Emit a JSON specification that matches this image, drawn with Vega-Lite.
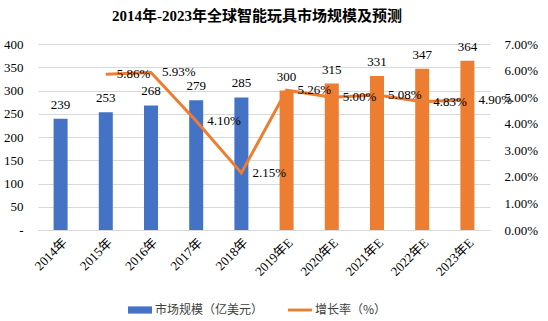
{
  "$schema": "https://vega.github.io/schema/vega-lite/v6.json",
  "width": 452,
  "height": 186,
  "autosize": "none",
  "padding": {"left": 38, "top": 44, "right": 58, "bottom": 91},
  "background": "white",
  "title": {
    "text": "2014年-2023年全球智能玩具市场规模及预测",
    "font": "Liberation Serif, Noto Sans CJK SC",
    "fontSize": 15,
    "fontWeight": "bold",
    "color": "#000000",
    "anchor": "middle",
    "dx": -7,
    "offset": 14
  },
  "data": {
    "values": [
      {"year": "2014年", "value": 239, "rate": null, "group": "市场规模（亿美元）"},
      {"year": "2015年", "value": 253, "rate": 0.0586, "group": "市场规模（亿美元）"},
      {"year": "2016年", "value": 268, "rate": 0.0593, "group": "市场规模（亿美元）"},
      {"year": "2017年", "value": 279, "rate": 0.0410, "group": "市场规模（亿美元）"},
      {"year": "2018年", "value": 285, "rate": 0.0215, "group": "市场规模（亿美元）"},
      {"year": "2019年E", "value": 300, "rate": 0.0526, "group": "预测规模"},
      {"year": "2020年E", "value": 315, "rate": 0.0500, "group": "预测规模"},
      {"year": "2021年E", "value": 331, "rate": 0.0508, "group": "预测规模"},
      {"year": "2022年E", "value": 347, "rate": 0.0483, "group": "预测规模"},
      {"year": "2023年E", "value": 364, "rate": 0.0490, "group": "预测规模"}
    ]
  },
  "encoding": {
    "x": {
      "field": "year",
      "type": "nominal",
      "sort": null,
      "scale": {"paddingInner": 0, "paddingOuter": 0},
      "axis": {
        "title": null,
        "labelAngle": -45,
        "labelPadding": 6,
        "ticks": false,
        "domainColor": "#d9d9d9",
        "domainWidth": 1
      }
    }
  },
  "layer": [
    {
      "encoding": {
        "y": {
          "field": "value",
          "type": "quantitative",
          "scale": {"domain": [0, 400]},
          "axis": {
            "title": null,
            "values": [0, 50, 100, 150, 200, 250, 300, 350, 400],
            "labelExpr": "datum.value == 0 ? '-' : datum.label",
            "ticks": false,
            "domain": false,
            "labelPadding": 15,
            "grid": true,
            "gridColor": "#d9d9d9",
            "gridWidth": 1
          }
        }
      },
      "layer": [
        {
          "mark": {"type": "bar", "size": 14},
          "encoding": {
            "color": {
              "field": "group",
              "type": "nominal",
              "scale": {
                "domain": ["市场规模（亿美元）", "增长率（%）", "预测规模"],
                "range": ["#4472C4", "#ED7D31", "#ED7D31"]
              },
              "legend": {
                "values": ["市场规模（亿美元）", "增长率（%）"],
                "title": null,
                "orient": "none",
                "legendX": 90,
                "legendY": 254,
                "direction": "horizontal",
                "labelFont": "Noto Sans CJK SC",
                "labelFontSize": 12,
                "labelColor": "#404040",
                "columnPadding": 24,
                "symbolSize": 576,
                "labelOffset": 3,
                "encode": {
                  "symbols": {
                    "update": {
                      "shape": {"signal": "datum.value === '增长率（%）' ? 'M-1,-0.12H1V0.12H-1Z' : 'M-1,-0.3H1V0.3H-1Z'"},
                      "fill": {"signal": "scale('color', datum.value)"},
                      "stroke": {"value": "transparent"},
                      "strokeWidth": {"value": 0},
                      "opacity": {"value": 1}
                    }
                  }
                }
              }
            }
          }
        },
        {
          "mark": {
            "type": "text",
            "dy": -7,
            "baseline": "bottom",
            "font": "Liberation Serif",
            "fontSize": 13,
            "color": "#000000"
          },
          "encoding": {
            "text": {"field": "value", "type": "quantitative"}
          }
        }
      ]
    },
    {
      "transform": [{"filter": "datum.rate != null"}],
      "encoding": {
        "y": {
          "field": "rate",
          "type": "quantitative",
          "scale": {"domain": [0, 0.07]},
          "axis": {
            "orient": "right",
            "title": null,
            "format": ".2%",
            "values": [0, 0.01, 0.02, 0.03, 0.04, 0.05, 0.06, 0.07],
            "ticks": false,
            "domain": false,
            "grid": false,
            "labelPadding": 14
          }
        }
      },
      "layer": [
        {
          "mark": {"type": "line", "strokeWidth": 3},
          "encoding": {
            "color": {"datum": "增长率（%）"}
          }
        },
        {
          "mark": {
            "type": "text",
            "align": "left",
            "baseline": "middle",
            "dx": 11,
            "font": "Liberation Serif",
            "fontSize": 13,
            "color": "#000000"
          },
          "encoding": {
            "text": {"field": "rate", "type": "quantitative", "format": ".2%"}
          }
        }
      ]
    }
  ],
  "resolve": {"scale": {"y": "independent"}},
  "config": {
    "view": {"stroke": null},
    "axis": {
      "labelFont": "Liberation Serif, Noto Sans CJK SC",
      "labelFontSize": 13,
      "labelColor": "#000000"
    }
  }
}
